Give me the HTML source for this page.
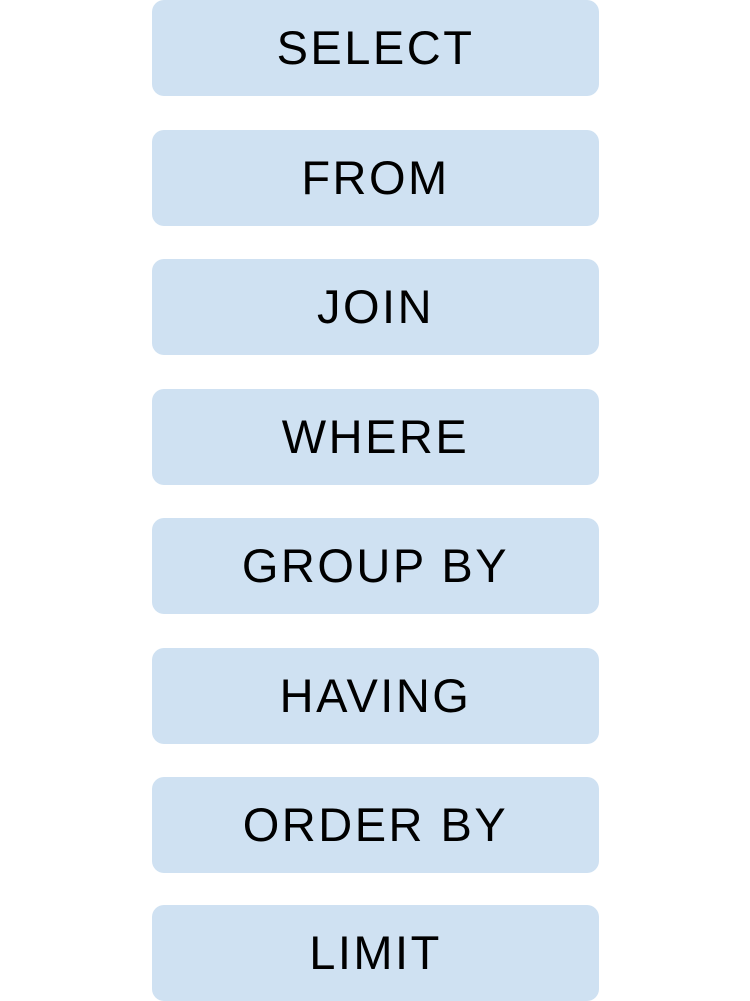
<!DOCTYPE html>
<html><head><style>
html,body{margin:0;padding:0;background:#fff;width:750px;height:1000px;overflow:hidden;}
.b{position:absolute;left:152px;width:447px;height:96px;border-radius:12px;background:#cfe1f2;
font-family:"Liberation Sans",sans-serif;font-size:47px;color:#000;text-align:center;line-height:96px;letter-spacing:2.5px;}
</style></head><body>
<div class="b" style="top:0px">SELECT</div>
<div class="b" style="top:130px">FROM</div>
<div class="b" style="top:259px">JOIN</div>
<div class="b" style="top:389px">WHERE</div>
<div class="b" style="top:518px">GROUP BY</div>
<div class="b" style="top:648px">HAVING</div>
<div class="b" style="top:777px">ORDER BY</div>
<div class="b" style="top:905px">LIMIT</div>
</body></html>
